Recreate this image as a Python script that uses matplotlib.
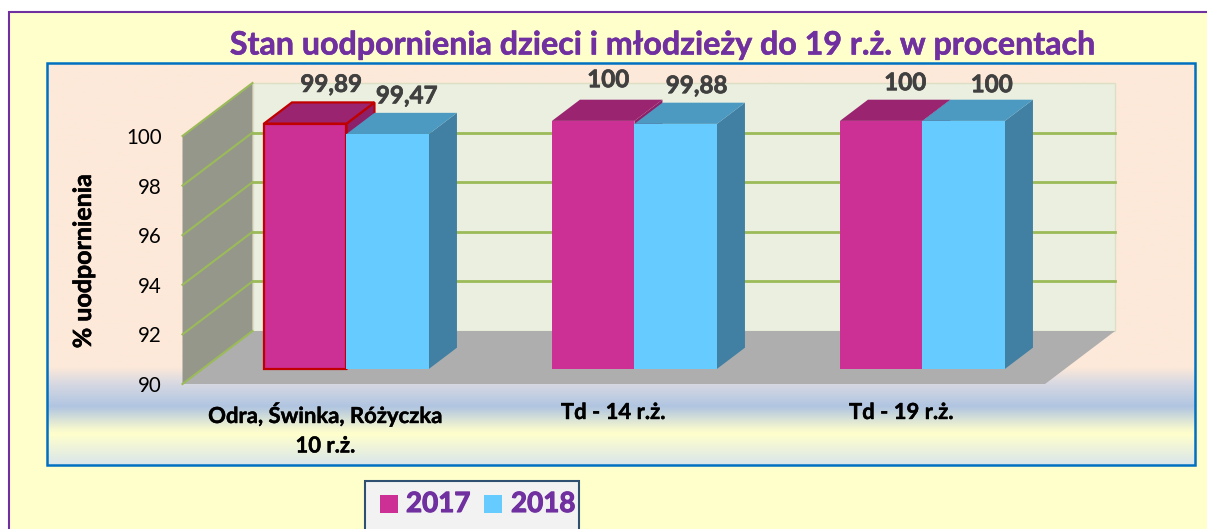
import numpy as np
import matplotlib
matplotlib.use('Agg')
from matplotlib import pyplot as plt
from matplotlib.colors import LinearSegmentedColormap
from matplotlib.patches import Polygon, Rectangle
import matplotlib.patheffects as pe

categories = ['Odra, Świnka, Różyczka\n10 r.ż.', 'Td - 14 r.ż.', 'Td - 19 r.ż.']
values_2017 = [99.89, 100, 100]
values_2018 = [99.47, 99.88, 100]
labels_2017 = ['99,89', '100', '100']
labels_2018 = ['99,47', '99,88', '100']
y_ticks = [90, 92, 94, 96, 98, 100]
series_names = ['2017', '2018']

W, H = 1207, 529
PINK = ('#CC3095', '#8C2069', '#9B2470')
BLUE = ('#66CCFF', '#417FA3', '#4C9AC2')
GREEN = '#9BBB59'
PURPLE = '#7030A0'
FONT = 'Lato'

# scale of the front plane, in pixels
X0, X_UNIT = 326.5, 288
Y0, Y_UNIT = 384, 24.8
BAR_W = 82.5 / X_UNIT
# depth 1 = full floor depth
DEPTH_X = 70 / X_UNIT
DEPTH_Y = 53 / Y_UNIT


def proj(c, v, d=0.0):
    return (c + d * DEPTH_X, v + d * DEPTH_Y)


def box(ax, left, value, colors, z, edge=None):
    d0, d1 = 0.285, 0.685
    right = left + BAR_W
    lw = 1.6 if edge else 0
    ec = edge if edge else 'none'
    front = [proj(left, 90, d0), proj(right, 90, d0), proj(right, value, d0), proj(left, value, d0)]
    side = [proj(right, 90, d0), proj(right, 90, d1), proj(right, value, d1), proj(right, value, d0)]
    top = [proj(left, value, d0), proj(right, value, d0), proj(right, value, d1), proj(left, value, d1)]
    ax.add_patch(Polygon(side, fc=colors[1], ec=ec, lw=lw, zorder=z))
    ax.add_patch(Polygon(top, fc=colors[2], ec=ec, lw=lw, zorder=z))
    ax.add_patch(Polygon(front, fc=colors[0], ec=ec, lw=lw, zorder=z))


fig = plt.figure(figsize=(W / 100, H / 100), dpi=100, facecolor='white')

# backgrounds in pixel coordinates
bg = fig.add_axes([0, 0, 1, 1], zorder=0)
bg.set_xlim(0, W)
bg.set_ylim(H, 0)
bg.axis('off')
bg.add_patch(Rectangle((8.5, 12), W, H, fc='#FFFFCC', ec=PURPLE, lw=1.5))
stops = [(0, '#FDE9D9'), (0.757, '#FDE9D9'), (0.80, '#D6D8E2'), (0.856, '#B0C5E1'),
         (0.91, '#F4F6CF'), (0.925, '#FFFFCC'), (1, '#DAE6EA')]
cmap = LinearSegmentedColormap.from_list('panel', stops)
bg.imshow(np.linspace(0, 1, 256)[:, None], cmap=cmap, aspect='auto', extent=(47, 1195, 465, 63), zorder=1)
bg.add_patch(Rectangle((47, 63), 1148, 402, fc='none', ec='#0070C0', lw=1.8, zorder=2))
bg.set_xlim(0, W)
bg.set_ylim(H, 0)

# chart axes: x = category index, y = percent
ax = fig.add_axes([0, 0, 1, 1], zorder=1)
ax.patch.set_alpha(0)
ax.set_xlim(-X0 / X_UNIT, (W - X0) / X_UNIT)
ax.set_ylim(90 - (H - Y0) / Y_UNIT, 90 + Y0 / Y_UNIT)
ax.axis('off')

x_left = -0.5
x_right = len(categories) - 0.505
ax.add_patch(Polygon([proj(x_left, 90, 1), proj(x_right, 90, 1), proj(x_right, 100, 1), proj(x_left, 100, 1)],
                     fc='#EAEFDF', ec='#DDDFC4', lw=1, zorder=1))
ax.add_patch(Polygon([proj(x_left, 90), proj(x_left, 90, 1), proj(x_left, 100, 1), proj(x_left, 100)],
                     fc='#95978B', ec='none', zorder=2))
ax.add_patch(Polygon([proj(x_left, 90), proj(x_right, 90), proj(x_right, 90, 1), proj(x_left, 90, 1)],
                     fc='#AEAEAE', ec='none', zorder=2))
for t in y_ticks:
    a, b, c = proj(x_left, t), proj(x_left, t, 1), proj(x_right, t, 1)
    ax.plot([a[0], b[0]], [a[1], b[1]], color=GREEN, lw=1.5, zorder=3)
    if 90 < t < 100:
        ax.plot([b[0], c[0]], [b[1], c[1]], color=GREEN, lw=2, zorder=1.5)
    ax.text(proj(x_left, t)[0] - 21 / X_UNIT, t - 2 / Y_UNIT, str(t), ha='right', va='center',
            family=FONT, fontsize=14.8, color='black')

ax.text(-243 / X_UNIT, 90 + (384 - 261) / Y_UNIT, '% uodpornienia', rotation=90, ha='center', va='center',
        family=FONT, fontweight='bold', fontsize=18, color='black',
        path_effects=[pe.withStroke(linewidth=0.4, foreground='black')])

# per-label nudges of the value labels, in pixels
nudge_2017 = [(-2, 18), (-13, 20), (-4, 17)]
nudge_2018 = [(-9, 17), (-7, 17), (0, 15)]
for i in range(len(categories)):
    edge = '#C00000' if i == 0 else None
    box(ax, i - BAR_W, values_2017[i], PINK, 5 + i, edge=edge)
    box(ax, i, values_2018[i], BLUE, 5.5 + i)
    for left, val, lab, nud in [(i - BAR_W, values_2017[i], labels_2017[i], nudge_2017[i]),
                                (i, values_2018[i], labels_2018[i], nudge_2018[i])]:
        px, py = proj(left + BAR_W / 2, val, 0.685)
        ax.text(px + nud[0] / X_UNIT, py + nud[1] / Y_UNIT, lab, ha='center', va='center',
                family=FONT, fontweight='bold', fontsize=17.4, color='#404040', zorder=20,
                path_effects=[pe.withStroke(linewidth=0.5, foreground='#404040')])
    ax.text(i - 1 / X_UNIT, 90 - 18 / Y_UNIT, categories[i], ha='center', va='top', linespacing=1.5,
            family=FONT, fontweight='bold', fontsize=15.9, color='black', zorder=20,
            path_effects=[pe.withStroke(linewidth=0.3, foreground='black')])

# title and hand-placed legend box
over = fig.add_axes([0, 0, 1, 1], zorder=2)
over.patch.set_alpha(0)
over.set_xlim(0, W)
over.set_ylim(H, 0)
over.axis('off')
over.text(663, 45, 'Stan uodpornienia dzieci i młodzieży do 19 r.ż. w procentach', ha='center', va='center',
          family=FONT, fontweight='bold', fontsize=23.2, color=PURPLE,
          path_effects=[pe.withStroke(linewidth=0.4, foreground=PURPLE)])
over.add_patch(Rectangle((365, 481), 214, 60, fc='#F2F2F2', ec='#2F5070', lw=1.5))
for name, col, mx, tx in zip(series_names, [PINK[0], BLUE[0]], [380, 484], [406, 511]):
    over.add_patch(Rectangle((mx, 495), 18, 18, fc=col, ec='none'))
    over.text(tx, 504, name, ha='left', va='center', family=FONT, fontweight='bold', fontsize=20, color=PURPLE,
              path_effects=[pe.withStroke(linewidth=0.8, foreground=PURPLE)])

fig.savefig('out.png', dpi=100)
